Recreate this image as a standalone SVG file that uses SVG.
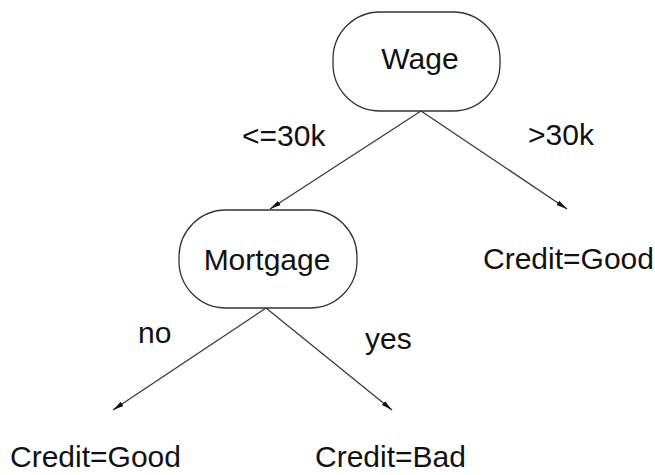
<svg xmlns="http://www.w3.org/2000/svg" width="655" height="475" viewBox="0 0 655 475">
  <defs>
    <style>
      .node { fill: #ffffff; stroke: #333333; stroke-width: 1.3; }
      .edge { fill: none; stroke: #3a3a3a; stroke-width: 1.3; marker-end: url(#arrow); }
      text { font-family: "Liberation Sans", Arial, sans-serif; font-size: 30px; fill: #111111; }
      .c { text-anchor: middle; }
    </style>
    <marker id="arrow" viewBox="0 0 11 6" refX="11" refY="3" markerWidth="11" markerHeight="6" markerUnits="userSpaceOnUse" orient="auto">
      <path d="M0,0.5 L11,3 L0,5.5 Z" fill="#111111"/>
    </marker>
  </defs>
  <rect width="655" height="475" fill="#ffffff"/>

  <g id="connectors">
    <line class="edge" x1="421" y1="111" x2="270" y2="209"/>
    <line class="edge" x1="421" y1="111" x2="567" y2="209"/>
    <line class="edge" x1="266" y1="308" x2="113" y2="410"/>
    <line class="edge" x1="266" y1="308" x2="392" y2="410"/>
  </g>

  <g id="wage">
    <rect class="node" x="333" y="12" width="167" height="99" rx="47" ry="47"/>
    <text class="c" x="420" y="69">Wage</text>
  </g>

  <g id="mortgage">
    <rect class="node" x="179" y="210" width="178" height="98" rx="47" ry="47"/>
    <text class="c" x="267" y="270">Mortgage</text>
  </g>

  <g id="good-right">
    <text x="483" y="269">Credit=Good</text>
  </g>

  <g id="good-left">
    <text x="10" y="467">Credit=Good</text>
  </g>

  <g id="bad">
    <text x="315" y="467">Credit=Bad</text>
  </g>

  <g id="edge-labels">
    <text x="242" y="146">&lt;=30k</text>
    <text x="528" y="145">&gt;30k</text>
    <text x="138" y="343">no</text>
    <text x="365" y="349">yes</text>
  </g>
</svg>
